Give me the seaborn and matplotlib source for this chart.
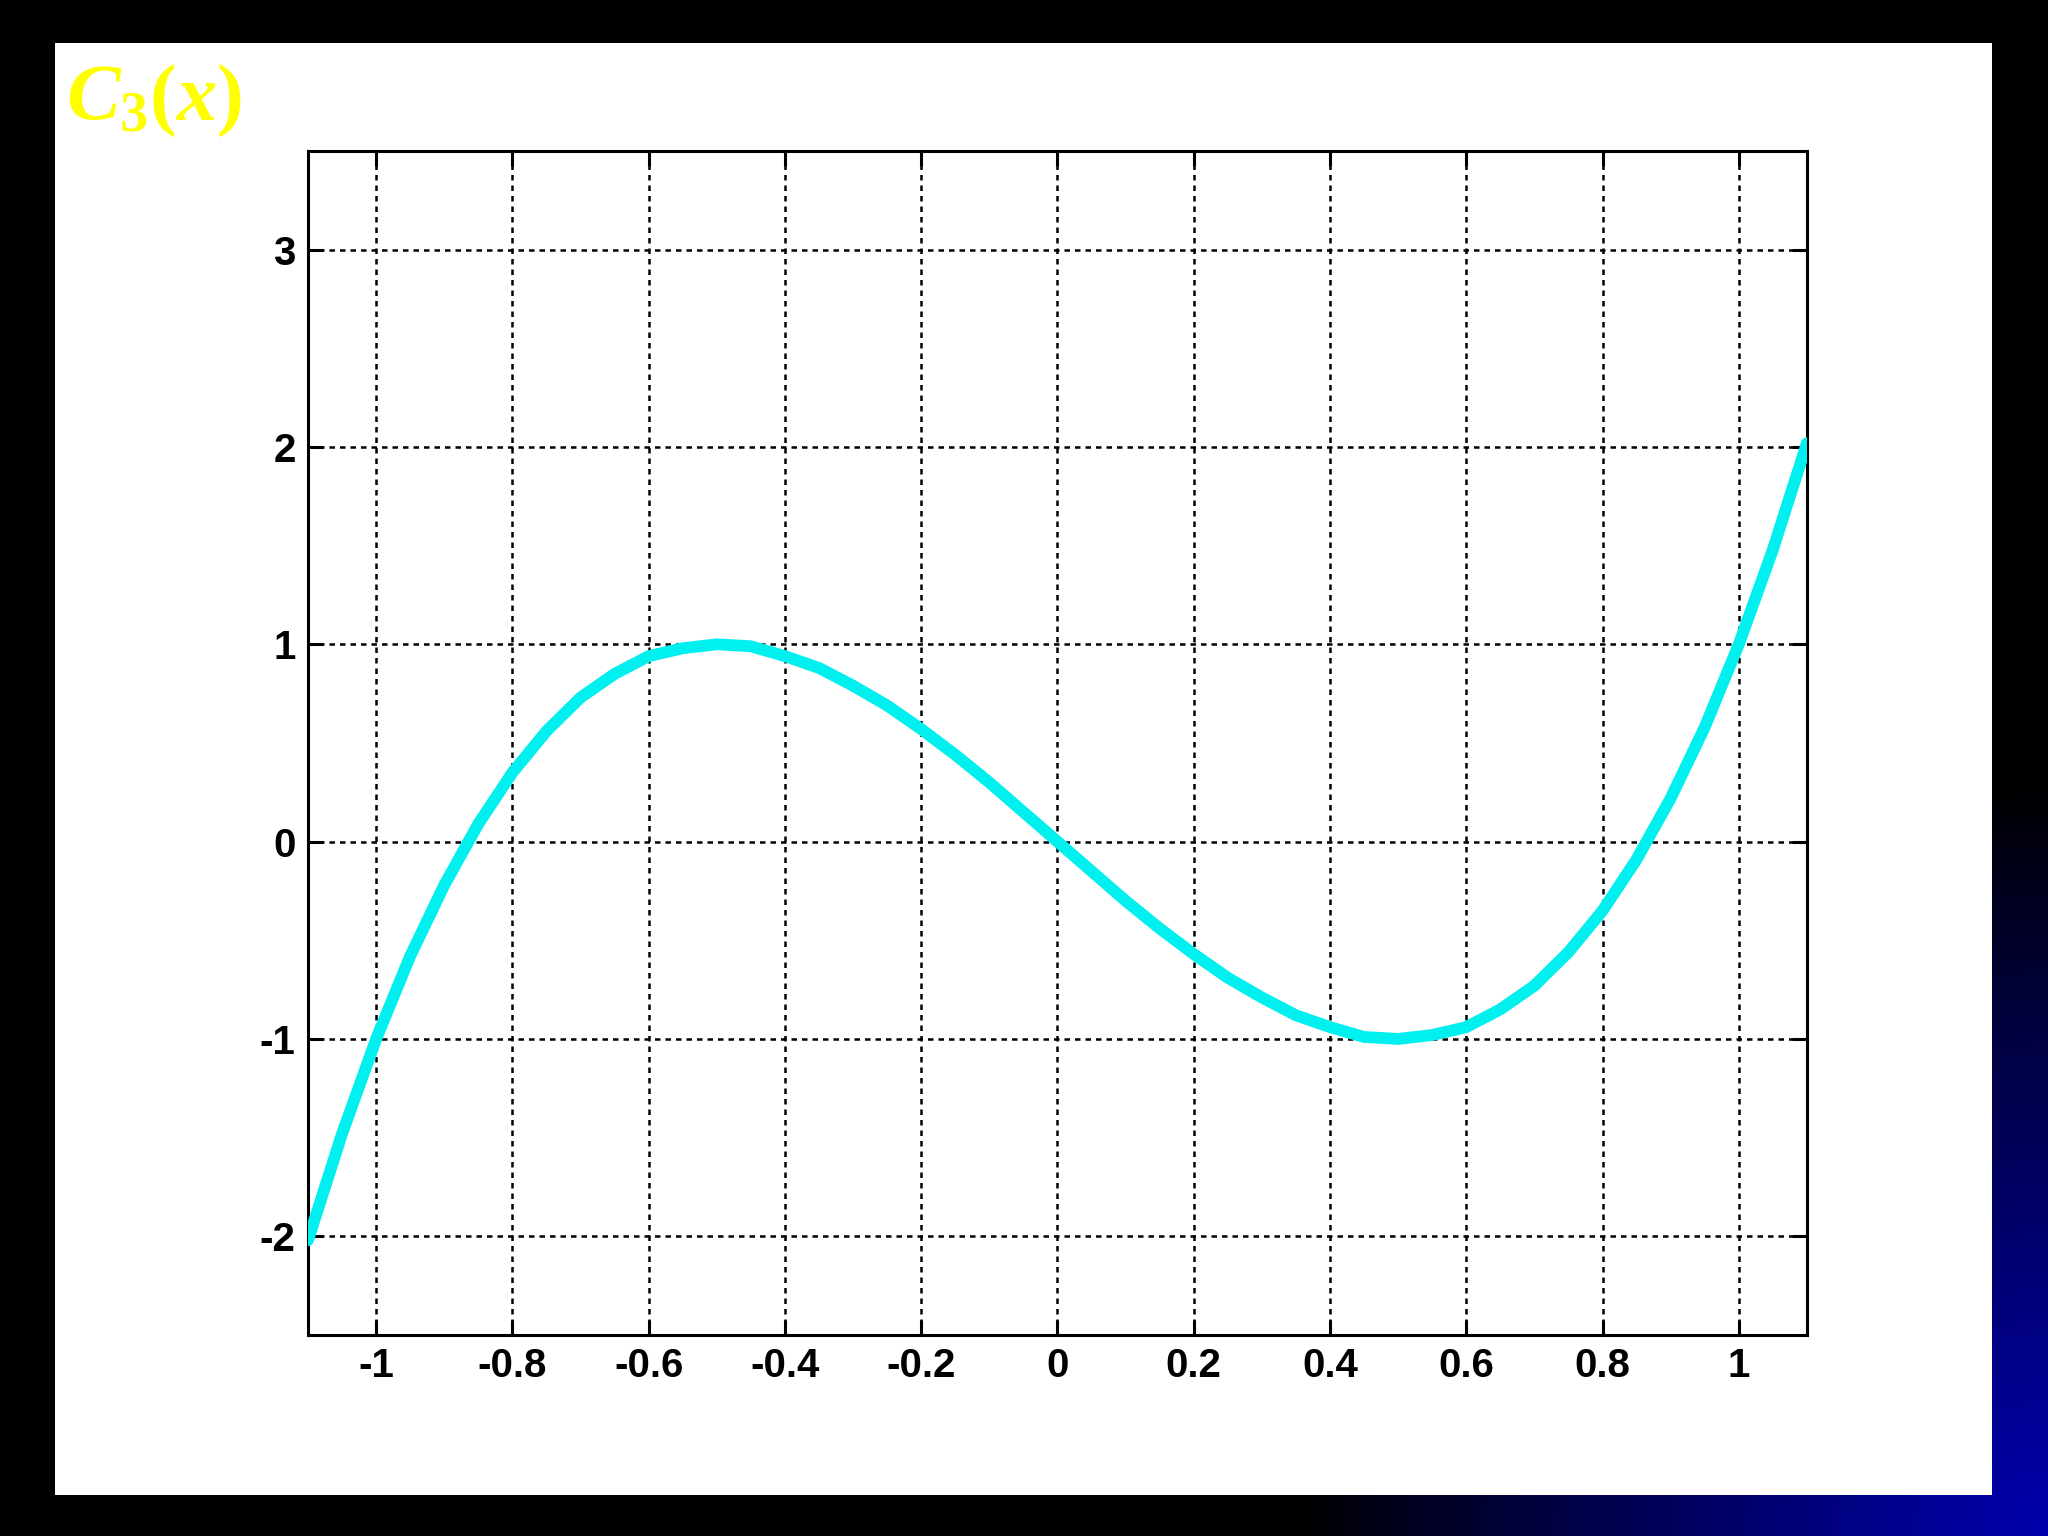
import numpy as np
import pandas as pd
import matplotlib
matplotlib.use("Agg")
import matplotlib.pyplot as plt
import seaborn as sns

x_vals = [-1.10, -1.05, -1.00, -0.95, -0.90, -0.85, -0.80, -0.75, -0.70, -0.65,
          -0.60, -0.55, -0.50, -0.45, -0.40, -0.35, -0.30, -0.25, -0.20, -0.15,
          -0.10, -0.05, 0.00, 0.05, 0.10, 0.15, 0.20, 0.25, 0.30, 0.35,
          0.40, 0.45, 0.50, 0.55, 0.60, 0.65, 0.70, 0.75, 0.80, 0.85,
          0.90, 0.95, 1.00, 1.05, 1.10]
y_vals = [-2.02, -1.48, -1.00, -0.58, -0.22, 0.09, 0.35, 0.56, 0.73, 0.85,
          0.94, 0.98, 1.00, 0.99, 0.94, 0.88, 0.79, 0.69, 0.57, 0.44,
          0.30, 0.15, 0.00, -0.15, -0.30, -0.44, -0.57, -0.69, -0.79, -0.88,
          -0.94, -0.99, -1.00, -0.98, -0.94, -0.85, -0.73, -0.56, -0.35, -0.09,
          0.22, 0.58, 1.00, 1.48, 2.02]

x_ticks = [-1, -0.8, -0.6, -0.4, -0.2, 0, 0.2, 0.4, 0.6, 0.8, 1]
x_labels = ["-1", "-0.8", "-0.6", "-0.4", "-0.2", "0", "0.2", "0.4", "0.6", "0.8", "1"]
y_ticks = [-2, -1, 0, 1, 2, 3]
y_labels = ["-2", "-1", "0", "1", "2", "3"]

sns.set_theme(style="white")
plt.rcParams['font.family'] = ['Liberation Sans', 'DejaVu Sans']
plt.rcParams['axes.unicode_minus'] = False
plt.rcParams['mathtext.fontset'] = 'custom'
plt.rcParams['mathtext.it'] = 'Liberation Serif:italic:bold'
plt.rcParams['mathtext.rm'] = 'Liberation Serif:bold'
plt.rcParams['mathtext.bf'] = 'Liberation Serif:bold'

fig = plt.figure(figsize=(20.48, 15.36), dpi=100, facecolor="black")

# fundo preto com gradiente azul no canto inferior direito + painel branco
bg = fig.add_axes([0, 0, 1, 1], zorder=0)
W, H = 512, 384
gx, gy = np.meshgrid(np.linspace(0, 2048, W), np.linspace(0, 1536, H))
d = np.sqrt((2048 - gx) ** 2 + (1536 - gy) ** 2)
t = np.clip(1 - d / 750.0, 0, 1)
img = np.zeros((H, W, 3))
img[..., 2] = 0.68 * t ** 0.9
bg.imshow(img, extent=[0, 1, 0, 1], origin="upper", aspect="auto")
bg.add_patch(plt.Rectangle((0.0269, 0.0267), 0.9458, 0.9453,
                           facecolor="white", edgecolor="none", zorder=5))
bg.set_xlim(0, 1)
bg.set_ylim(0, 1)
bg.set_axis_off()

ax = fig.add_axes([0.1504, 0.1309, 0.7319, 0.7708], zorder=2)
ax.set_facecolor("white")
df = pd.DataFrame({"x": x_vals, "y": y_vals})
sns.lineplot(data=df, x="x", y="y", ax=ax, color="#00f0f0", linewidth=8.5,
             solid_capstyle="round", solid_joinstyle="round", zorder=3)

ax.set_xlim(-1.1, 1.1)
ax.set_ylim(-2.5, 3.5)
ax.set_xticks(x_ticks)
ax.set_xticklabels(x_labels)
ax.set_yticks(y_ticks)
ax.set_yticklabels(y_labels)
ax.set_xlabel("")
ax.set_ylabel("")
ax.grid(True, color="black", linestyle=(0, (2.2, 2)), linewidth=1.8, zorder=1)
for s in ax.spines.values():
    s.set_visible(True)
    s.set_color("black")
    s.set_linewidth(2.2)
ax.tick_params(direction="in", length=11, width=2.2, color="black",
               top=True, right=True, bottom=True, left=True,
               labelsize=29, pad=9, labelcolor="black")
for lab in ax.get_xticklabels() + ax.get_yticklabels():
    lab.set_fontweight("bold")

fig.text(0.032, 0.922, r"$C_3(x)$", color="#ffff00", fontsize=58,
         ha="left", va="baseline", zorder=10)

fig.savefig("out.png", dpi=100, facecolor="black")
